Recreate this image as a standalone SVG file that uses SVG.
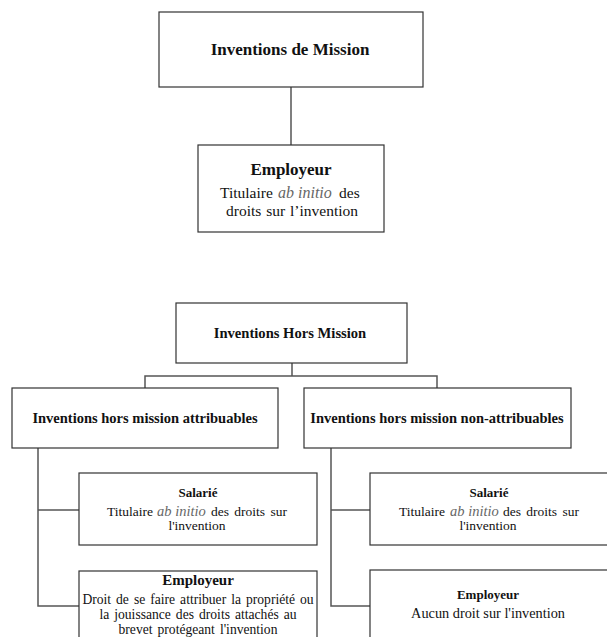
<svg xmlns="http://www.w3.org/2000/svg" width="607" height="637" viewBox="0 0 607 637">
<style>
.box{fill:#fff;stroke:#333;stroke-width:1.2}
.ln{fill:none;stroke:#555;stroke-width:1.5}
text{font-family:"Liberation Serif","Times New Roman",serif;fill:#111;text-anchor:middle}
.s{text-anchor:start}
.b{font-weight:bold}
.i{font-style:italic;fill:#666}
</style>
<rect width="607" height="637" fill="#fff"/>
<g id="connectors">
<path class="ln" d="M291,87 V145"/>
<path class="ln" d="M292,363 V376 M145,388 V376 H437 V388"/>
<path class="ln" d="M38,448 V606 H79 M38,510 H79"/>
<path class="ln" d="M331,448 V606 H370 M331,510 H370"/>
</g>
<g id="inventions-mission">
<rect class="box" x="159" y="12" width="264" height="75"/>
<text class="b" x="290" y="55" font-size="17">Inventions de Mission</text>
</g>
<g id="employeur-mission">
<rect class="box" x="198" y="145" width="186" height="87"/>
<text class="b" x="291" y="175" font-size="17">Employeur</text>
<text class="s" x="220" y="198" font-size="15.5">Titulaire</text>
<text class="s i" x="278" y="198" font-size="16">ab initio</text>
<text class="s" x="339" y="198" font-size="15.5">des</text>
<text x="292" y="216" font-size="15.5" word-spacing="1">droits sur l’invention</text>
</g>
<g id="inventions-hors-mission">
<rect class="box" x="176" y="303" width="231" height="60"/>
<text class="b" x="290" y="338" font-size="14.6">Inventions Hors Mission</text>
</g>
<g id="hors-attribuables">
<rect class="box" x="12" y="388" width="266" height="60"/>
<text class="b" x="145" y="423" font-size="14.5">Inventions hors mission attribuables</text>
</g>
<g id="hors-non-attribuables">
<rect class="box" x="304" y="388" width="267" height="60"/>
<text class="b" x="437" y="423" font-size="14.5">Inventions hors mission non-attribuables</text>
</g>
<g id="salarie-attribuables">
<rect class="box" x="79" y="473" width="238" height="72"/>
<text class="b" x="198" y="497" font-size="13">Salarié</text>
<text class="s" x="107" y="516" font-size="13.5">Titulaire</text>
<text class="s i" x="157" y="516" font-size="14.5">ab initio</text>
<text class="s" x="211" y="516" font-size="13.5" word-spacing="2">des droits sur</text>
<text x="197" y="530" font-size="13.5">l'invention</text>
</g>
<g id="employeur-attribuables">
<rect class="box" x="79" y="571" width="238" height="80"/>
<text class="b" x="198" y="585" font-size="15">Employeur</text>
<text x="198" y="604" font-size="13.6" word-spacing="1.6">Droit de se faire attribuer la propriété ou</text>
<text x="198" y="619" font-size="13.6" word-spacing="1.6">la jouissance des droits attachés au</text>
<text x="198" y="634" font-size="13.6" word-spacing="1.6">brevet protégeant l'invention</text>
</g>
<g id="salarie-non-attribuables">
<rect class="box" x="370" y="473" width="250" height="72"/>
<text class="b" x="489" y="497" font-size="13">Salarié</text>
<text class="s" x="399" y="516" font-size="13.5">Titulaire</text>
<text class="s i" x="450" y="516" font-size="14.5">ab initio</text>
<text class="s" x="503" y="516" font-size="13.5" word-spacing="2">des droits sur</text>
<text x="488" y="530" font-size="13.5">l'invention</text>
</g>
<g id="employeur-non-attribuables">
<rect class="box" x="370" y="570" width="250" height="80"/>
<text class="b" x="488" y="599" font-size="13">Employeur</text>
<text x="488" y="618" font-size="14.3">Aucun droit sur l'invention</text>
</g>
</svg>
